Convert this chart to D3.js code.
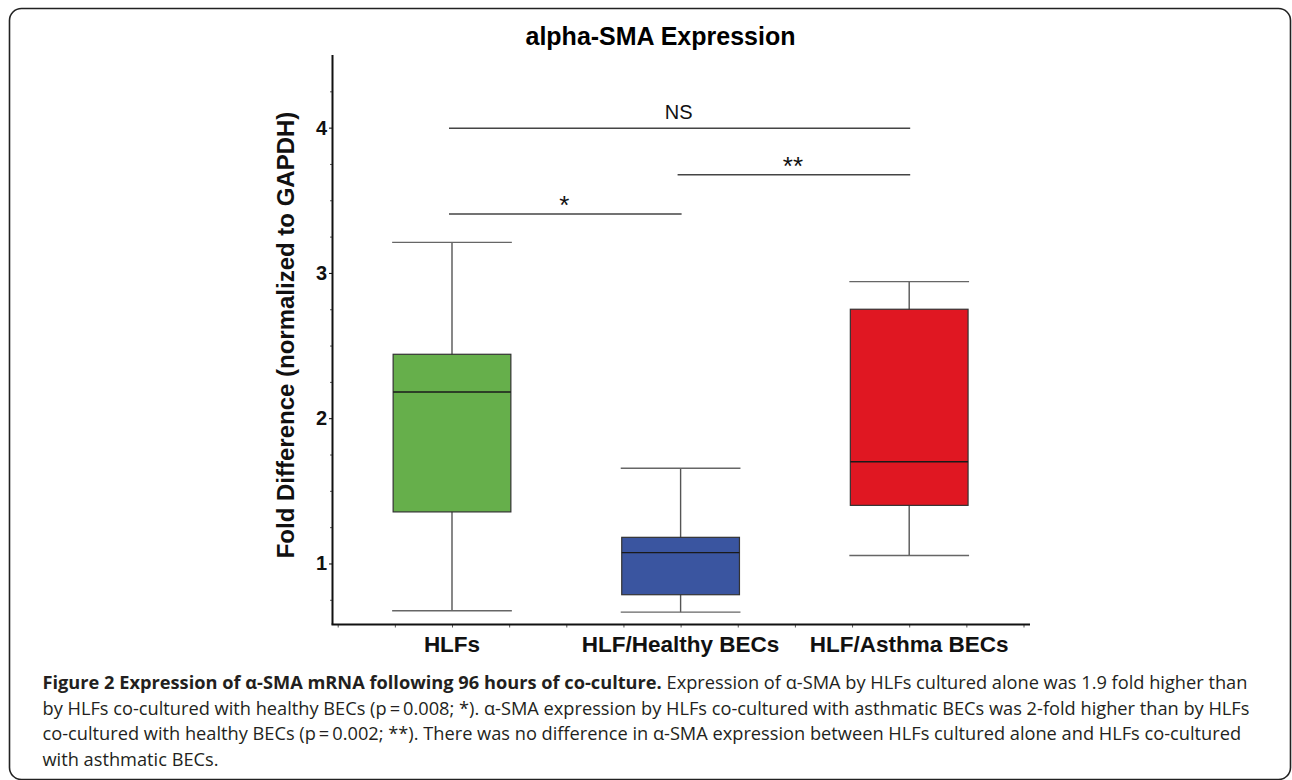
<!DOCTYPE html>
<html>
<head>
<meta charset="utf-8">
<script src="https://cdn.jsdelivr.net/npm/d3@7"></script>
<style>
  body { margin: 0; background: #fff; }
  svg { display: block; }
</style>
</head>
<body>
<div id="chart"></div>
<script>
// groups and box statistics
const groups = ["HLFs", "HLF/Healthy BECs", "HLF/Asthma BECs"];
const boxColors = ["#66af4b", "#3a55a0", "#e01722"];
const whiskerLow = [0.675, 0.665, 1.055];
const q1 = [1.355, 0.785, 1.40];
const median = [2.18, 1.075, 1.70];
const q3 = [2.44, 1.18, 2.75];
const whiskerHigh = [3.21, 1.655, 2.94];

// significance brackets (index into groups)
const sigFrom = [0, 1, 0];
const sigTo = [1, 2, 2];
const sigLevel = [3.405, 3.675, 3.995];
const sigLabel = ["*", "**", "NS"];

// axis ticks
const yMajor = [1, 2, 3, 4];
const yMinor = [0.75, 1.25, 1.5, 1.75, 2.25, 2.5, 2.75, 3.25, 3.5, 3.75, 4.25];
const xQuarter = [0, 0.25, 0.5, 0.75, 1, 1.25, 1.5, 1.75, 2, 2.25, 2.5, 2.75, 3];

const captionLines = [
    [["Figure 2 Expression of \u03b1-SMA mRNA following 96 hours of co-culture.", true],
     [" Expression of \u03b1-SMA by HLFs cultured alone was 1.9 fold higher than", false]],
    [["by HLFs co-cultured with healthy BECs (p\u2009=\u20090.008; *). \u03b1-SMA expression by HLFs co-cultured with asthmatic BECs was 2-fold higher than by HLFs", false]],
    [["co-cultured with healthy BECs (p\u2009=\u20090.002; **). There was no difference in \u03b1-SMA expression between HLFs cultured alone and HLFs co-cultured", false]],
    [["with asthmatic BECs.", false]]
];

const W = 1292, H = 780;
const plot = { left: 332.5, right: 1030, top: 55, bottom: 624.5 };
const chartFont = "'Liberation Sans', Arial, sans-serif";
const captionFont = "'Open Sans', 'Noto Sans', sans-serif";

const svg = d3.select("#chart")
    .append("svg")
    .attr("width", W)
    .attr("height", H);

// frame around the figure
svg.append("rect")
    .attr("x", 9.5).attr("y", 8.5)
    .attr("width", 1281).attr("height", 771)
    .attr("rx", 12)
    .attr("fill", "none")
    .attr("stroke", "#222")
    .attr("stroke-width", 1.6);

const y = d3.scaleLinear().domain([0.58, 4.5]).range([plot.bottom, plot.top]);
const x = d3.scaleBand().domain(groups).range([plot.left + 5.2, plot.right - 6.5]);
const xq = d3.scaleLinear().domain([0, groups.length]).range(x.range());
const boxW = x.bandwidth() * 0.515;
const cx = (i) => x(groups[i]) + x.bandwidth() / 2;

// title
svg.append("text")
    .attr("x", 660.5).attr("y", 45)
    .attr("text-anchor", "middle")
    .style("font-family", chartFont)
    .style("font-weight", "bold")
    .style("font-size", "25px")
    .text("alpha-SMA Expression");

// y axis: minor ticks then major ticks with labels
svg.append("g")
    .attr("transform", `translate(${plot.left},0)`)
    .call(d3.axisLeft(y).tickValues(yMinor).tickSize(2.5).tickFormat(""))
    .call(g => g.select(".domain").remove())
    .selectAll("line").attr("stroke", "#555");

const yAxis = svg.append("g")
    .attr("transform", `translate(${plot.left},0)`)
    .call(d3.axisLeft(y).tickValues(yMajor).tickSize(3.5).tickPadding(2).tickFormat(d3.format("d")));
yAxis.select(".domain").remove();
yAxis.selectAll("text")
    .style("font-family", chartFont)
    .style("font-weight", "bold")
    .style("font-size", "20px")
    .attr("fill", "#111");

// x axis quarter ticks
svg.append("g")
    .attr("transform", `translate(0,${plot.bottom})`)
    .call(d3.axisBottom(xq).tickValues(xQuarter).tickSize(3).tickFormat(""))
    .call(g => g.select(".domain").remove())
    .selectAll("line").attr("stroke", "#555");

// axis lines
svg.append("line")
    .attr("x1", plot.left).attr("x2", plot.left)
    .attr("y1", plot.top).attr("y2", plot.bottom)
    .attr("stroke", "#111").attr("stroke-width", 2);
svg.append("line")
    .attr("x1", plot.left - 1).attr("x2", plot.right)
    .attr("y1", plot.bottom).attr("y2", plot.bottom)
    .attr("stroke", "#111").attr("stroke-width", 2);

// category labels
svg.append("g")
    .selectAll("text")
    .data(groups)
    .join("text")
    .attr("x", (d, i) => cx(i))
    .attr("y", plot.bottom + 27)
    .attr("text-anchor", "middle")
    .style("font-family", chartFont)
    .style("font-weight", "bold")
    .style("font-size", "22.5px")
    .attr("fill", "#111")
    .text(d => d);

// y axis title
svg.append("text")
    .attr("transform", `translate(293.5,335) rotate(-90)`)
    .attr("text-anchor", "middle")
    .style("font-family", chartFont)
    .style("font-weight", "bold")
    .style("font-size", "24px")
    .attr("fill", "#111")
    .text("Fold Difference (normalized to GAPDH)");

// box plots
const boxes = svg.append("g")
    .selectAll("g")
    .data(groups)
    .join("g");

boxes.append("line")
    .attr("x1", (d, i) => cx(i)).attr("x2", (d, i) => cx(i))
    .attr("y1", (d, i) => y(whiskerLow[i])).attr("y2", (d, i) => y(whiskerHigh[i]))
    .attr("stroke", "#555").attr("stroke-width", 1.4);

[whiskerLow, whiskerHigh].forEach(arr => {
    boxes.append("line")
        .attr("x1", (d, i) => cx(i) - boxW / 2 - 1).attr("x2", (d, i) => cx(i) + boxW / 2 + 1)
        .attr("y1", (d, i) => y(arr[i])).attr("y2", (d, i) => y(arr[i]))
        .attr("stroke", "#666").attr("stroke-width", 1.4);
});

boxes.append("rect")
    .attr("x", (d, i) => cx(i) - boxW / 2)
    .attr("width", boxW)
    .attr("y", (d, i) => y(q3[i]))
    .attr("height", (d, i) => y(q1[i]) - y(q3[i]))
    .attr("fill", (d, i) => boxColors[i])
    .attr("stroke", "#333")
    .attr("stroke-width", 1.2);

boxes.append("line")
    .attr("x1", (d, i) => cx(i) - boxW / 2).attr("x2", (d, i) => cx(i) + boxW / 2)
    .attr("y1", (d, i) => y(median[i])).attr("y2", (d, i) => y(median[i]))
    .attr("stroke", "#1a1a1a").attr("stroke-width", 1.4);

// significance brackets
const sig = svg.append("g")
    .selectAll("g")
    .data(sigLabel)
    .join("g");

sig.append("line")
    .attr("x1", (d, i) => cx(sigFrom[i]) - 3)
    .attr("x2", (d, i) => cx(sigTo[i]) + 1)
    .attr("y1", (d, i) => y(sigLevel[i])).attr("y2", (d, i) => y(sigLevel[i]))
    .attr("stroke", "#444").attr("stroke-width", 1.5);

sig.append("text")
    .attr("x", (d, i) => (cx(sigFrom[i]) + cx(sigTo[i])) / 2 - 2)
    .attr("y", (d, i) => y(sigLevel[i]) - (d === "NS" ? 9 : 0))
    .attr("text-anchor", "middle")
    .style("font-family", chartFont)
    .style("font-size", d => d === "NS" ? "20px" : "26px")
    .attr("fill", "#111")
    .text(d => d);

// caption, sized so that the second line spans the printed width
const caption = svg.append("g")
    .style("font-family", captionFont)
    .attr("fill", "#231f20");

const captionText = caption.selectAll("text")
    .data(captionLines)
    .join("text")
    .attr("x", 42.5)
    .attr("y", (d, i) => 689 + i * 25.7)
    .style("font-size", "16px");

captionText.selectAll("tspan")
    .data(d => d)
    .join("tspan")
    .style("font-weight", d => d[1] ? "bold" : "normal")
    .text(d => d[0]);

const measured = captionText.nodes()[1].getComputedTextLength();
const fitted = 16 * (1250 - 42.5) / measured;
captionText.style("font-size", fitted + "px");
</script>
</body>
</html>
